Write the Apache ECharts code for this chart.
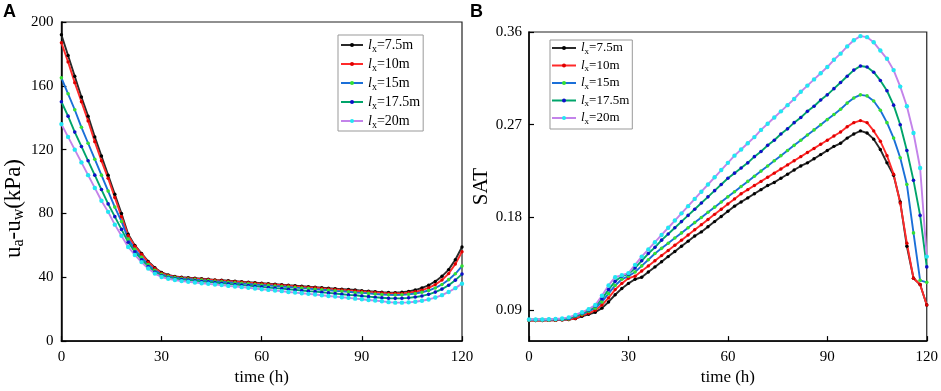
<!DOCTYPE html>
<html><head><meta charset="utf-8">
<script src="https://cdn.jsdelivr.net/npm/echarts@6/dist/echarts.min.js"></script>
<style>html,body{margin:0;padding:0;background:#fff}#c{width:941px;height:391px}</style>
</head><body><div id="c"></div><script>
// ---- data ----
const timeH = [0,2,4,6,8,10,12,14,16,18,
  20,22,24,26,28,30,32,34,36,38,
  40,42,44,46,48,50,52,54,56,58,
  60,62,64,66,68,70,72,74,76,78,
  80,82,84,86,88,90,92,94,96,98,
  100,102,104,106,108,110,112,114,116,118,120];
const seriesNames = ['7.5m','10m','15m','17.5m','20m'];
const xTicks = [0,30,60,90,120];
const suctionTicks = [0,40,80,120,160,200];
const satTicks = [0.09,0.18,0.27,0.36];

const suction75 = [192,179,166,153,141,128,116,104,92,80,
  67,60,55,50,46,43,41.5,40.5,40,39.7,
  39.4,39.1,38.8,38.4,38.1,37.8,37.5,37.2,36.9,36.6,
  36.3,36.0,35.7,35.4,35.0,34.7,34.4,34.1,33.8,33.5,
  33.2,32.9,32.6,32.3,32.0,31.6,31.3,31.0,30.7,30.5,
  30.4,30.6,31.1,32.0,33.3,35.0,37.4,40.6,44.8,51,59];
const suction10 = [187,175,162,150,138,125,113,102,90,78,
  66,59.5,54.5,49.5,45.5,42.6,41.2,40.2,39.7,39.4,
  39.1,38.8,38.5,38.1,37.8,37.5,37.2,36.9,36.6,36.3,
  35.9,35.6,35.3,35.0,34.7,34.3,34.0,33.7,33.4,33.0,
  32.7,32.4,32.1,31.8,31.4,31.1,30.8,30.5,30.2,29.9,
  29.8,29.9,30.3,30.9,31.9,33.3,35.4,38.3,42.3,48.3,56];
const suction15 = [165,155,145,134,124,114,104,94,84,75,
  64,57.5,52.5,48,44.3,41.8,40.6,39.8,39.2,38.9,
  38.5,38.2,37.9,37.5,37.2,36.9,36.5,36.2,35.9,35.5,
  35.2,34.9,34.5,34.2,33.9,33.5,33.2,32.9,32.5,32.2,
  31.9,31.5,31.2,30.9,30.5,30.2,29.9,29.5,29.2,29.0,
  28.9,29.0,29.3,29.8,30.6,31.7,33.3,35.5,38.5,42.2,47];
const suction175 = [150,141,131,122,113,104,95,86,78,70,
  62,56,51,46.8,43.3,41,39.9,39.1,38.6,38.2,
  37.8,37.4,37.1,36.7,36.3,35.9,35.5,35.2,34.8,34.4,
  34.0,33.6,33.2,32.9,32.5,32.1,31.7,31.3,31.0,30.6,
  30.2,29.8,29.4,29.0,28.7,28.3,27.9,27.5,27.2,26.9,
  26.8,26.9,27.1,27.6,28.3,29.3,30.7,32.6,35.0,38.2,42];
const suction20 = [136,128,120,112,104,96,88,81,73,66,
  59,54,49.5,45.5,42.3,40.2,39.1,38.3,37.6,37.2,
  36.7,36.3,35.9,35.5,35.1,34.6,34.2,33.8,33.4,33.0,
  32.5,32.1,31.7,31.3,30.8,30.4,30.0,29.6,29.2,28.7,
  28.3,27.9,27.5,27.1,26.6,26.2,25.8,25.4,25.0,24.4,
  24.1,24.1,24.3,24.7,25.3,26.1,27.3,28.8,30.8,33.2,36];

const sat75 = [0.080,0.080,0.080,0.0801,0.0803,0.0806,0.081,0.0818,0.084,0.086,
  0.088,0.092,0.098,0.105,0.111,0.116,0.120,0.122,0.127,0.132,
  0.137,0.142,0.147,0.152,0.157,0.162,0.166,0.171,0.176,0.181,
  0.186,0.191,0.195,0.199,0.203,0.207,0.211,0.214,0.218,0.222,
  0.226,0.230,0.233,0.237,0.241,0.245,0.249,0.252,0.257,0.261,
  0.264,0.262,0.256,0.246,0.233,0.221,0.195,0.152,0.121,0.115,0.095];
const sat10 = [0.080,0.080,0.080,0.0801,0.0803,0.0806,0.081,0.082,0.085,0.087,
  0.090,0.095,0.102,0.110,0.116,0.121,0.123,0.128,0.133,0.138,
  0.143,0.148,0.153,0.158,0.163,0.168,0.173,0.178,0.183,0.188,
  0.193,0.198,0.203,0.207,0.211,0.215,0.219,0.223,0.227,0.231,
  0.235,0.239,0.243,0.247,0.251,0.255,0.259,0.263,0.268,0.272,
  0.274,0.272,0.264,0.254,0.240,0.222,0.194,0.155,0.121,0.115,0.095];
const sat15 = [0.0805,0.0805,0.0805,0.0806,0.0808,0.081,0.0815,0.084,0.086,0.089,
  0.092,0.098,0.106,0.114,0.120,0.123,0.127,0.133,0.139,0.145,
  0.150,0.155,0.160,0.165,0.170,0.175,0.180,0.185,0.190,0.195,
  0.200,0.205,0.210,0.215,0.220,0.225,0.230,0.235,0.240,0.245,
  0.250,0.255,0.260,0.265,0.270,0.275,0.280,0.285,0.291,0.296,
  0.299,0.298,0.293,0.284,0.272,0.257,0.238,0.212,0.165,0.119,0.117];
const sat175 = [0.081,0.081,0.081,0.0811,0.0813,0.0816,0.082,0.0845,0.087,0.090,
  0.094,0.101,0.110,0.118,0.123,0.125,0.131,0.138,0.145,0.151,
  0.158,0.164,0.170,0.176,0.182,0.188,0.194,0.200,0.206,0.212,
  0.218,0.223,0.228,0.233,0.239,0.244,0.250,0.255,0.261,0.266,
  0.272,0.277,0.283,0.288,0.294,0.299,0.305,0.311,0.317,0.323,
  0.327,0.326,0.321,0.313,0.303,0.289,0.270,0.245,0.216,0.182,0.132];
const sat20 = [0.081,0.081,0.081,0.0812,0.0815,0.082,0.083,0.0855,0.088,0.091,
  0.095,0.104,0.114,0.122,0.124,0.126,0.134,0.142,0.149,0.156,
  0.163,0.170,0.177,0.184,0.191,0.198,0.205,0.212,0.219,0.226,
  0.233,0.240,0.246,0.252,0.258,0.265,0.271,0.277,0.283,0.289,
  0.295,0.302,0.308,0.314,0.320,0.326,0.333,0.339,0.346,0.352,
  0.356,0.355,0.350,0.342,0.334,0.323,0.307,0.288,0.262,0.228,0.142];

// ---- styles ----
const lineColors = ['#2a2a2a','#ff2a2a','#1a6fd8','#00a46a','#c383ea'];
const symColors  = ['#000000','#e00000','#33e033','#1010c8','#22e6f2'];
const symSizes   = [3.4, 3.4, 3.6, 3.6, 4.4];
const SERIF = '"Liberation Serif", "Times New Roman", serif';

const chart = echarts.init(document.getElementById('c'));

function mk(name, values, idx, gi) {
  return {
    name: name, type: 'line', xAxisIndex: gi, yAxisIndex: gi,
    data: timeH.map((t, i) => [t, values[i]]),
    symbol: 'circle', symbolSize: symSizes[idx], showSymbol: true,
    lineStyle: { color: lineColors[idx], width: 1.9 },
    itemStyle: { color: symColors[idx], borderWidth: 0 },
    emphasis: { disabled: true }
  };
}
const suction = [suction75, suction10, suction15, suction175, suction20];
const sat = [sat75, sat10, sat15, sat175, sat20];
const names = seriesNames.map(s => 'lx=' + s);

function legendRich(fs, sub, pad) {
  return {
    i: { fontFamily: SERIF, fontStyle: 'italic', fontSize: fs, lineHeight: fs, color: '#000' },
    s: { fontFamily: SERIF, fontSize: sub, lineHeight: sub, padding: [pad,0,0,0], color: '#000' },
    n: { fontFamily: SERIF, fontSize: fs, lineHeight: fs, color: '#000' }
  };
}
function legendFmt(name) { return '{i|l}{s|x}{n|' + name.slice(2) + '}'; }

function xAxis(gi, gap) {
  return {
    type: 'value', gridIndex: gi, min: 0, max: 120, interval: 30,
    name: 'time (h)', nameLocation: 'middle', nameGap: gap,
    nameTextStyle: { fontFamily: SERIF, fontSize: 17, color: '#000' },
    axisLine: { lineStyle: { color: '#000', width: 1.5 } },
    axisTick: { inside: true, length: 5, lineStyle: { color: '#000', width: 1.2 } },
    axisLabel: { fontFamily: SERIF, fontSize: 15, color: '#000', margin: 8 },
    splitLine: { show: false }
  };
}

const option = {
  animation: false,
  backgroundColor: '#fff',
  title: [
    { text: 'A', left: 3, top: 3, padding: 0, textStyle: { fontFamily: '"Liberation Sans", Arial, sans-serif', fontWeight: 'bold', fontSize: 18, color: '#000' } },
    { text: 'B', left: 470, top: 3, padding: 0, textStyle: { fontFamily: '"Liberation Sans", Arial, sans-serif', fontWeight: 'bold', fontSize: 18, color: '#000' } }
  ],
  grid: [
    { left: 60, right: 479, top: 22, bottom: 46, show: true, borderColor: '#222', borderWidth: 1.2, backgroundColor: 'transparent' },
    { left: 529, right: 13, top: 32, bottom: 39, show: true, borderColor: '#222', borderWidth: 1.2, backgroundColor: 'transparent' }
  ],
  legend: [
    { data: names, orient: 'vertical', left: 338, top: 35, itemWidth: 22, itemHeight: 5, itemGap: 1,
      padding: [1,3,1,2], borderColor: '#999', borderWidth: 1, backgroundColor: '#fff',
      formatter: legendFmt, textStyle: { rich: legendRich(14, 10, 8) }, selectedMode: false },
    { data: names, orient: 'vertical', left: 550, top: 40, itemWidth: 24, itemHeight: 5, itemGap: 1.5,
      padding: [0,3,3,1], borderColor: '#999', borderWidth: 1, backgroundColor: '#fff',
      formatter: legendFmt, textStyle: { rich: legendRich(13, 9, 7) }, selectedMode: false }
  ],
  xAxis: [ xAxis(0, 24), xAxis(1, 18) ],
  yAxis: [
    { type: 'value', gridIndex: 0, min: 0, max: 200, interval: 40,
      name: '{m|u}{s|a}{m|-u}{s|w}{m|(kPa)}', nameLocation: 'middle', nameGap: 30, nameRotate: 90,
      nameTextStyle: { padding: [0, 54, 0, 0], rich: {
        m: { fontFamily: SERIF, fontSize: 23, lineHeight: 23, color: '#000' },
        s: { fontFamily: SERIF, fontSize: 16, lineHeight: 16, padding: [10,0,0,0], color: '#000' } } },
      axisLine: { lineStyle: { color: '#000', width: 1.5 } },
      axisTick: { inside: true, length: 5, lineStyle: { color: '#000', width: 1.2 } },
      axisLabel: { fontFamily: SERIF, fontSize: 15, color: '#000', margin: 8 },
      splitLine: { show: false } },
    { type: 'value', gridIndex: 1, min: 0.06, max: 0.36,
      name: 'SAT', nameLocation: 'middle', nameGap: 31,
      nameTextStyle: { fontFamily: SERIF, fontSize: 21, color: '#000' },
      axisLine: { lineStyle: { color: '#000', width: 1.5 } },
      axisTick: { inside: true, length: 5, customValues: satTicks, lineStyle: { color: '#000', width: 1.2 } },
      axisLabel: { fontFamily: SERIF, fontSize: 15, color: '#000', margin: 7, customValues: satTicks,
        formatter: v => v.toFixed(2) },
      splitLine: { show: false } }
  ],
  series: [
    ...suction.map((v, i) => mk(names[i], v, i, 0)),
    ...sat.map((v, i) => mk(names[i], v, i, 1))
  ]
};
chart.setOption(option);
</script></body></html>
